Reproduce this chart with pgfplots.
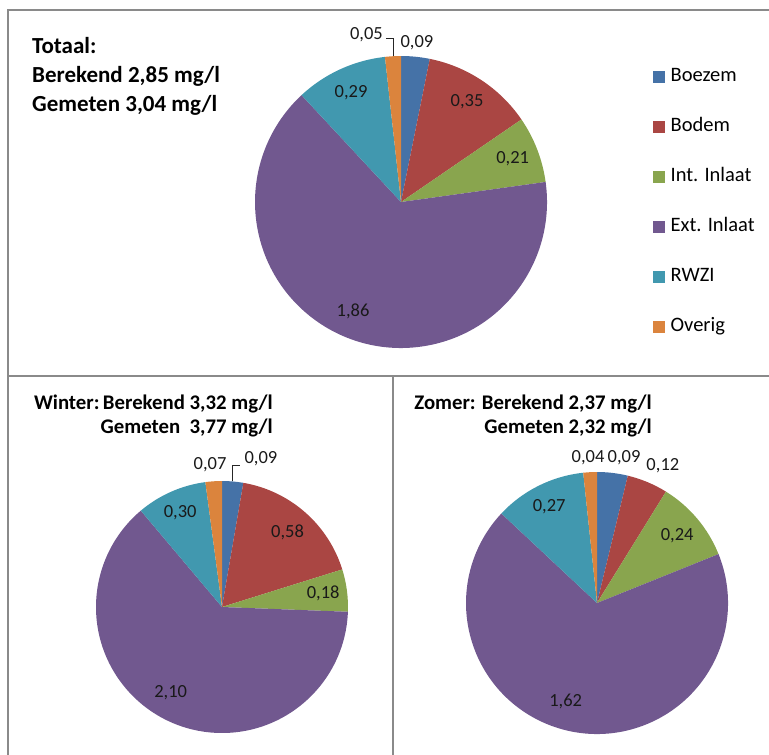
\documentclass[border=0pt]{standalone}
\usepackage{pgfplots}
\pgfplotsset{compat=1.18}
\usepackage{pgfplotstable}
\usepackage{fontspec}
\setmainfont{Carlito}

% slice colours (Boezem, Bodem, Int. Inlaat, Ext. Inlaat, RWZI, Overig)
\definecolor{slice0}{HTML}{4572A7}
\definecolor{slice1}{HTML}{AA4643}
\definecolor{slice2}{HTML}{89A54E}
\definecolor{slice3}{HTML}{71588F}
\definecolor{slice4}{HTML}{4198AF}
\definecolor{slice5}{HTML}{DB843D}
\definecolor{framegray}{HTML}{8A8A8A}

\newcommand\labelfont{\fontsize{18.5}{21}\selectfont}
\newcommand\legendfont{\fontsize{20.5}{23}\selectfont}

\pgfkeys{/pgf/number format/.cd, fixed, fixed zerofill, precision=2,
  use comma, assume math mode=true}

% value: mg/l per source; lr: label radius (fraction of R);
% da: label angle shift (deg); ld: leader line direction (0 = none)
\pgfplotstableread{
value lr   da   ld
0.09  1.10 0    0
0.35  0.82 0    0
0.21  0.82 0    0
1.86  0.82 -4   0
0.29  0.82 0    0
0.05  1.17 8.5  -1
}\totaal

\pgfplotstableread{
value lr   da   ld
0.09  1.22 -9.8 1
0.58  0.79 0    0
0.18  0.81 0    0
2.10  0.79 -5   0
0.30  0.82 0    0
0.07  1.13 1    0
}\winter

\pgfplotstableread{
value lr   da   ld
0.09  1.13 -3.7 0
0.12  1.16 -3   0
0.24  0.80 0    0
1.62  0.79 -7   0
0.27  0.82 0    0
0.04  1.11 0.5  0
}\zomer

% cumulative angles of every slice, clockwise from 12 o'clock
\newcommand\preparepie[2]{%
  \gdef\pietot{0}%
  \foreach \i in {0,...,5}{%
    \pgfplotstablegetelem{\i}{value}\of#1%
    \pgfmathsetmacro\tmp{\pietot+\pgfplotsretval}%
    \xdef\pietot{\tmp}}%
  \gdef\piecum{0}%
  \foreach \i in {0,...,5}{%
    \pgfplotstablegetelem{\i}{value}\of#1\let\pv\pgfplotsretval
    \pgfplotstablegetelem{\i}{lr}\of#1\let\plr\pgfplotsretval
    \pgfplotstablegetelem{\i}{da}\of#1\let\pda\pgfplotsretval
    \pgfplotstablegetelem{\i}{ld}\of#1\let\pld\pgfplotsretval
    \pgfmathsetmacro\ps{90-360*\piecum/\pietot}%
    \pgfmathsetmacro\pe{90-360*(\piecum+\pv)/\pietot}%
    \pgfmathsetmacro\pm{(\ps+\pe)/2}%
    \pgfmathsetmacro\pla{\pm+\pda}%
    \expandafter\xdef\csname #2s\i\endcsname{\ps}%
    \expandafter\xdef\csname #2e\i\endcsname{\pe}%
    \expandafter\xdef\csname #2m\i\endcsname{\pm}%
    \expandafter\xdef\csname #2la\i\endcsname{\pla}%
    \expandafter\xdef\csname #2lr\i\endcsname{\plr}%
    \expandafter\xdef\csname #2ld\i\endcsname{\pld}%
    \expandafter\xdef\csname #2v\i\endcsname{\pv}%
    \pgfmathsetmacro\tmp{\piecum+\pv}%
    \xdef\piecum{\tmp}}%
}
\preparepie{\totaal}{top}
\preparepie{\winter}{win}
\preparepie{\zomer}{zom}

% wedges, value labels and leader lines of one pie (#2 = radius in pt)
\newcommand\drawpie[2]{%
  \pgfplotsinvokeforeach{0,...,5}{%
    \fill[slice##1] (axis cs:0,0)
      -- (axis cs:{#2*cos(\csname #1s##1\endcsname)},{#2*sin(\csname #1s##1\endcsname)})
      arc[start angle=\csname #1s##1\endcsname, end angle=\csname #1e##1\endcsname, radius=#2pt]
      -- cycle;
  }%
  \pgfplotsinvokeforeach{0,...,5}{%
    \node[font=\labelfont, text=black!90, inner sep=0pt] at
      (axis cs:{#2*\csname #1lr##1\endcsname*cos(\csname #1la##1\endcsname)},
               {#2*\csname #1lr##1\endcsname*sin(\csname #1la##1\endcsname)})
      {\pgfmathprintnumber{\csname #1v##1\endcsname}};
    \ifnum\csname #1ld##1\endcsname=0 \else
      \draw[black!85, line width=0.9pt]
        (axis cs:{#2*cos(\csname #1m##1\endcsname)},{#2*sin(\csname #1m##1\endcsname)})
        -- (axis cs:{#2*cos(\csname #1m##1\endcsname)},{1.12*#2})
        -- ++(\csname #1ld##1\endcsname*7pt,0pt);
    \fi
  }%
}

\pgfplotsset{pieaxis/.style={hide axis, x=1pt, y=1pt, clip=false, anchor=center}}

\begin{document}
\begin{tikzpicture}[x=1pt, y=1pt]
\path[use as bounding box] (0,0) rectangle (769,-755);

% panel frames
\draw[framegray, line width=2pt] (769,-10) -- (7.5,-10) -- (7.5,-755);
\draw[framegray, line width=2pt] (7.5,-376) -- (769,-376);
\draw[framegray, line width=2pt] (393,-376) -- (393,-755);

% whole year
\begin{axis}[pieaxis, at={(401,-202)}, xmin=-200, xmax=200, ymin=-200, ymax=200,
  legend style={at={(1.13,0.835)}, anchor=north west, draw=none, fill=none,
    inner sep=0pt, row sep=33pt, column sep=6pt, font=\legendfont,
    nodes={inner sep=0pt, text height=13pt, text depth=4pt}},
  legend cell align=left,
  legend image code/.code={\fill[#1] (0pt,-5.5pt) rectangle (11pt,5.5pt);}]
  \drawpie{top}{146}
  \addlegendimage{slice0}\addlegendentry{Boezem}
  \addlegendimage{slice1}\addlegendentry{Bodem}
  \addlegendimage{slice2}\addlegendentry{Int. Inlaat}
  \addlegendimage{slice3}\addlegendentry{Ext. Inlaat}
  \addlegendimage{slice4}\addlegendentry{RWZI}
  \addlegendimage{slice5}\addlegendentry{Overig}
\end{axis}

% winter
\begin{axis}[pieaxis, at={(222,-607)}, xmin=-150, xmax=150, ymin=-145, ymax=145]
  \drawpie{win}{126}
\end{axis}

% summer
\begin{axis}[pieaxis, at={(597,-603)}, xmin=-150, xmax=150, ymin=-145, ymax=145]
  \drawpie{zom}{131}
\end{axis}

% titles
\begin{scope}[every node/.style={inner sep=0pt, font=\fontsize{23}{28}\selectfont\bfseries}]
  \node[anchor=base west] at (32,-53) {Totaal:};
  \node[anchor=base west] at (32,-82) {Berekend 2,85 mg/l};
  \node[anchor=base west] at (32,-111) {Gemeten 3,04 mg/l};
\end{scope}
\begin{scope}[every node/.style={inner sep=0pt, font=\fontsize{20.8}{24}\selectfont\bfseries}]
  \node[anchor=base east] at (273,-409) {Winter:\,Berekend 3,32 mg/l};
  \node[anchor=base east] at (273,-433) {Gemeten\ \ 3,77 mg/l};
  \node[anchor=base east] at (652,-409) {Zomer: Berekend 2,37 mg/l};
  \node[anchor=base east] at (652,-433) {Gemeten 2,32 mg/l};
\end{scope}
\end{tikzpicture}
\end{document}
